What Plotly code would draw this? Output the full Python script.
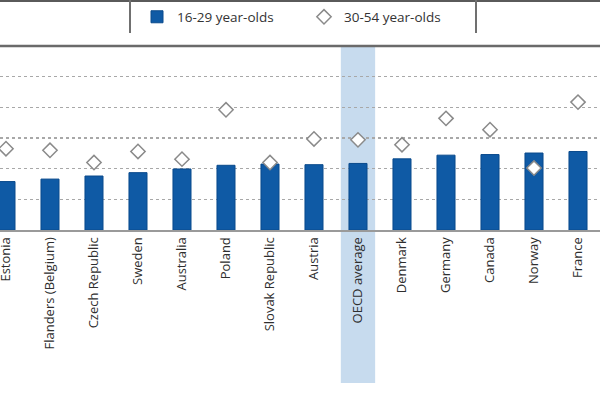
import plotly.graph_objects as go

countries = ["Estonia", "Flanders (Belgium)", "Czech Republic", "Sweden", "Australia",
             "Poland", "Slovak Republic", "Austria", "OECD average", "Denmark",
             "Germany", "Canada", "Norway", "France"]
young = [1.58, 1.66, 1.76, 1.87, 1.99, 2.11, 2.15, 2.13, 2.17, 2.32, 2.44, 2.46, 2.51, 2.56]
older = [2.65, 2.60, 2.20, 2.56, 2.31, 3.92, 2.20, 2.97, 2.94, 2.78, 3.64, 3.27, 2.02, 4.17]

W, H = 600, 400
TOP, BOT = 46, 230
PH = BOT - TOP

def py(px):
    return (BOT - px) / PH

fig = go.Figure()
fig.add_trace(go.Bar(
    x=countries, y=young, name="16-29 year-olds", legend="legend",
    marker=dict(color="#0f5aa5", line=dict(color="#0a4a8c", width=1)),
))
fig.add_trace(go.Scatter(
    x=countries, y=older, name="30-54 year-olds", mode="markers", legend="legend2",
    marker=dict(symbol="diamond", size=11, color="white",
                line=dict(color="#8a8a8a", width=1.5)),
))

shapes = [
    dict(type="rect", xref="x", yref="paper", x0=7.61, x1=8.39,
         y0=py(383), y1=1, fillcolor="#c7dbee", line=dict(width=0), layer="below"),
    dict(type="line", xref="paper", yref="paper", x0=0, x1=1, y0=1, y1=1,
         line=dict(color="#6a6a6a", width=2.5)),
    dict(type="line", xref="paper", yref="paper", x0=0, x1=1, y0=py(1), y1=py(1),
         line=dict(color="#5a5a5a", width=2)),
    dict(type="line", xref="paper", yref="paper", x0=130 / W, x1=130 / W,
         y0=py(33), y1=py(0), line=dict(color="#707070", width=2)),
    dict(type="line", xref="paper", yref="paper", x0=476 / W, x1=476 / W,
         y0=py(33), y1=py(0), line=dict(color="#707070", width=2)),
]

leg_common = dict(orientation="h", xanchor="left", y=py(17), yanchor="middle",
                  font=dict(size=13.5, color="#333333"), bgcolor="rgba(0,0,0,0)",
                  itemwidth=30)

fig.update_layout(
    width=W, height=H,
    margin=dict(l=0, r=0, t=TOP, b=H - BOT, autoexpand=False),
    paper_bgcolor="white", plot_bgcolor="white",
    font=dict(family="Open Sans", color="#333333"),
    bargap=0.59,
    showlegend=True,
    legend=dict(x=137 / W, **leg_common),
    legend2=dict(x=304 / W, **leg_common),
    shapes=shapes,
    xaxis=dict(type="category", range=[-0.136, 13.5], tickangle=-90,
               tickfont=dict(size=13, color="#2e2e2e"), showline=True,
               linecolor="#9a9a9a", linewidth=2, showgrid=False, ticks="",
               fixedrange=True, automargin=False),
    yaxis=dict(range=[0, 6], dtick=1, showticklabels=False, showgrid=True,
               gridcolor="#a8a8a8", griddash="dot", gridwidth=1.5, zeroline=False,
               showline=False, fixedrange=True, automargin=False),
)

fig.write_html("out.html", config={"displayModeBar": False, "staticPlot": True},
               post_script="document.body.style.margin='0';document.body.style.overflow='hidden';")
